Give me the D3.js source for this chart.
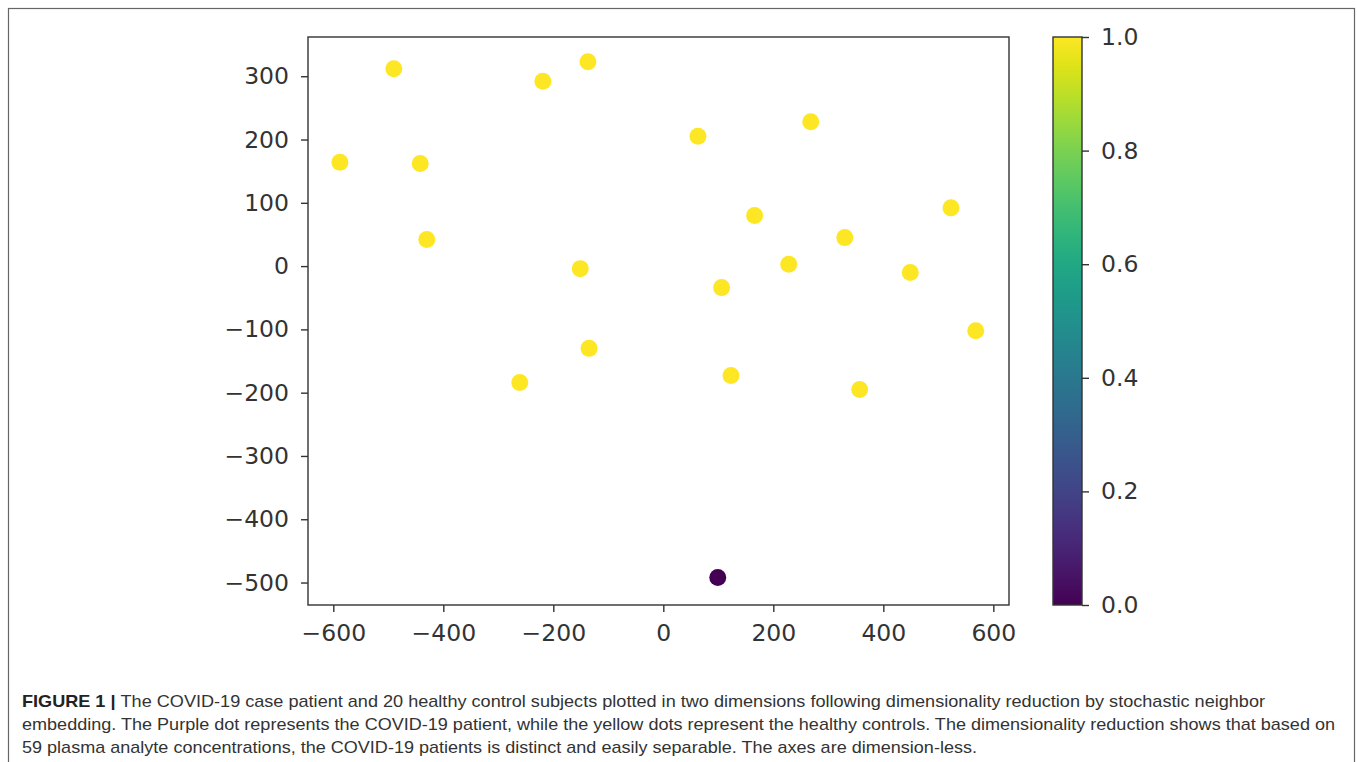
<!DOCTYPE html>
<html>
<head>
<meta charset="utf-8">
<script src="https://cdn.jsdelivr.net/npm/d3@7"></script>
<style>
    body { margin: 0; background: #fff; }
    svg { display: block; }
    .tick text { font-family: "DejaVu Sans", sans-serif; font-size: 23.5px; fill: #333; }
    .caption { font-family: "Liberation Sans", Arial, sans-serif; font-size: 17px; fill: #333; }
</style>
</head>
<body>
<svg id="chart" width="1357" height="762"></svg>
<script>
// t-SNE coordinates, one entry per subject
var xs = [-490, -588, -442, -430, -219, -137, -151, -135, -261, 63, 268, 166, 106, 123, 228, 330, 357, 523, 449, 568, 99];
var ys = [312, 164, 162, 42, 292, 323, -4, -130, -184, 205, 228, 80, -34, -173, 3, 45, -195, 92, -10, -102, -492];
// 1 = healthy control, 0 = COVID-19 patient
var labels = [1, 1, 1, 1, 1, 1, 1, 1, 1, 1, 1, 1, 1, 1, 1, 1, 1, 1, 1, 1, 0];

var xTicks = [-600, -400, -200, 0, 200, 400, 600];
var yTicks = [300, 200, 100, 0, -100, -200, -300, -400, -500];
var cTicks = [0.0, 0.2, 0.4, 0.6, 0.8, 1.0];

var captionLines = [
    "The COVID-19 case patient and 20 healthy control subjects plotted in two dimensions following dimensionality reduction by stochastic neighbor",
    "embedding. The Purple dot represents the COVID-19 patient, while the yellow dots represent the healthy controls. The dimensionality reduction shows that based on",
    "59 plasma analyte concentrations, the COVID-19 patients is distinct and easily separable. The axes are dimension-less."
];

var svg = d3.select("#chart");

// outer frame of the figure
svg.append("rect")
    .attr("x", 8.5).attr("y", 8.5)
    .attr("width", 1346).attr("height", 770)
    .attr("fill", "none")
    .attr("stroke", "#666")
    .attr("stroke-width", 1.2);

var plot = {left: 308, right: 1009, top: 37, bottom: 605};

var x = d3.scaleLinear().domain([-646, 628.5]).range([plot.left, plot.right]);
var y = d3.scaleLinear().domain([-535.5, 362]).range([plot.bottom, plot.top]);
var color = d3.scaleSequential(d3.interpolateViridis).domain([0, 1]);

var xAxis = svg.append("g")
    .attr("transform", "translate(0," + plot.bottom + ")")
    .call(d3.axisBottom(x).tickValues(xTicks).tickSize(7).tickPadding(12).tickSizeOuter(0));

var yAxis = svg.append("g")
    .attr("transform", "translate(" + plot.left + ",0)")
    .call(d3.axisLeft(y).tickValues(yTicks).tickSize(7).tickPadding(12).tickSizeOuter(0));

[xAxis, yAxis].forEach(function (a) {
    a.select(".domain").remove();
    a.selectAll(".tick line").attr("stroke", "#333").attr("stroke-width", 1.4);
});

svg.append("g")
    .selectAll("circle")
    .data(xs)
    .enter().append("circle")
    .attr("cx", function (d) { return x(d); })
    .attr("cy", function (d, i) { return y(ys[i]); })
    .attr("r", 8.5)
    .attr("fill", function (d, i) { return color(labels[i]); });

svg.append("rect")
    .attr("x", plot.left).attr("y", plot.top)
    .attr("width", plot.right - plot.left).attr("height", plot.bottom - plot.top)
    .attr("fill", "none")
    .attr("stroke", "#333")
    .attr("stroke-width", 1.4);

// colorbar
var cb = {left: 1053, right: 1082};
var grad = svg.append("defs").append("linearGradient")
    .attr("id", "viridis")
    .attr("x1", 0).attr("y1", 1).attr("x2", 0).attr("y2", 0);
d3.range(0, 1.0001, 0.05).forEach(function (t) {
    grad.append("stop").attr("offset", t).attr("stop-color", color(t));
});

var c = d3.scaleLinear().domain([0, 1]).range([plot.bottom, plot.top]);

svg.append("rect")
    .attr("x", cb.left).attr("y", plot.top)
    .attr("width", cb.right - cb.left).attr("height", plot.bottom - plot.top)
    .attr("fill", "url(#viridis)")
    .attr("stroke", "#333")
    .attr("stroke-width", 1.4);

var cAxis = svg.append("g")
    .attr("transform", "translate(" + cb.right + ",0)")
    .call(d3.axisRight(c).tickValues(cTicks).tickFormat(d3.format(".1f")).tickSize(7).tickPadding(12).tickSizeOuter(0));
cAxis.select(".domain").remove();
cAxis.selectAll(".tick line").attr("stroke", "#333").attr("stroke-width", 1.4);

// caption
var lineEnds = [1265, 1335, 977];
captionLines.forEach(function (line, i) {
    var t = svg.append("text")
        .attr("class", "caption")
        .attr("x", 22)
        .attr("y", 707 + i * 23)
        .attr("textLength", lineEnds[i] - 22)
        .attr("lengthAdjust", "spacingAndGlyphs");
    if (i === 0) {
        t.append("tspan").attr("font-weight", "bold").attr("fill", "#222").text("FIGURE 1 | ");
    }
    t.append("tspan").text(line);
});
</script>
</body>
</html>
